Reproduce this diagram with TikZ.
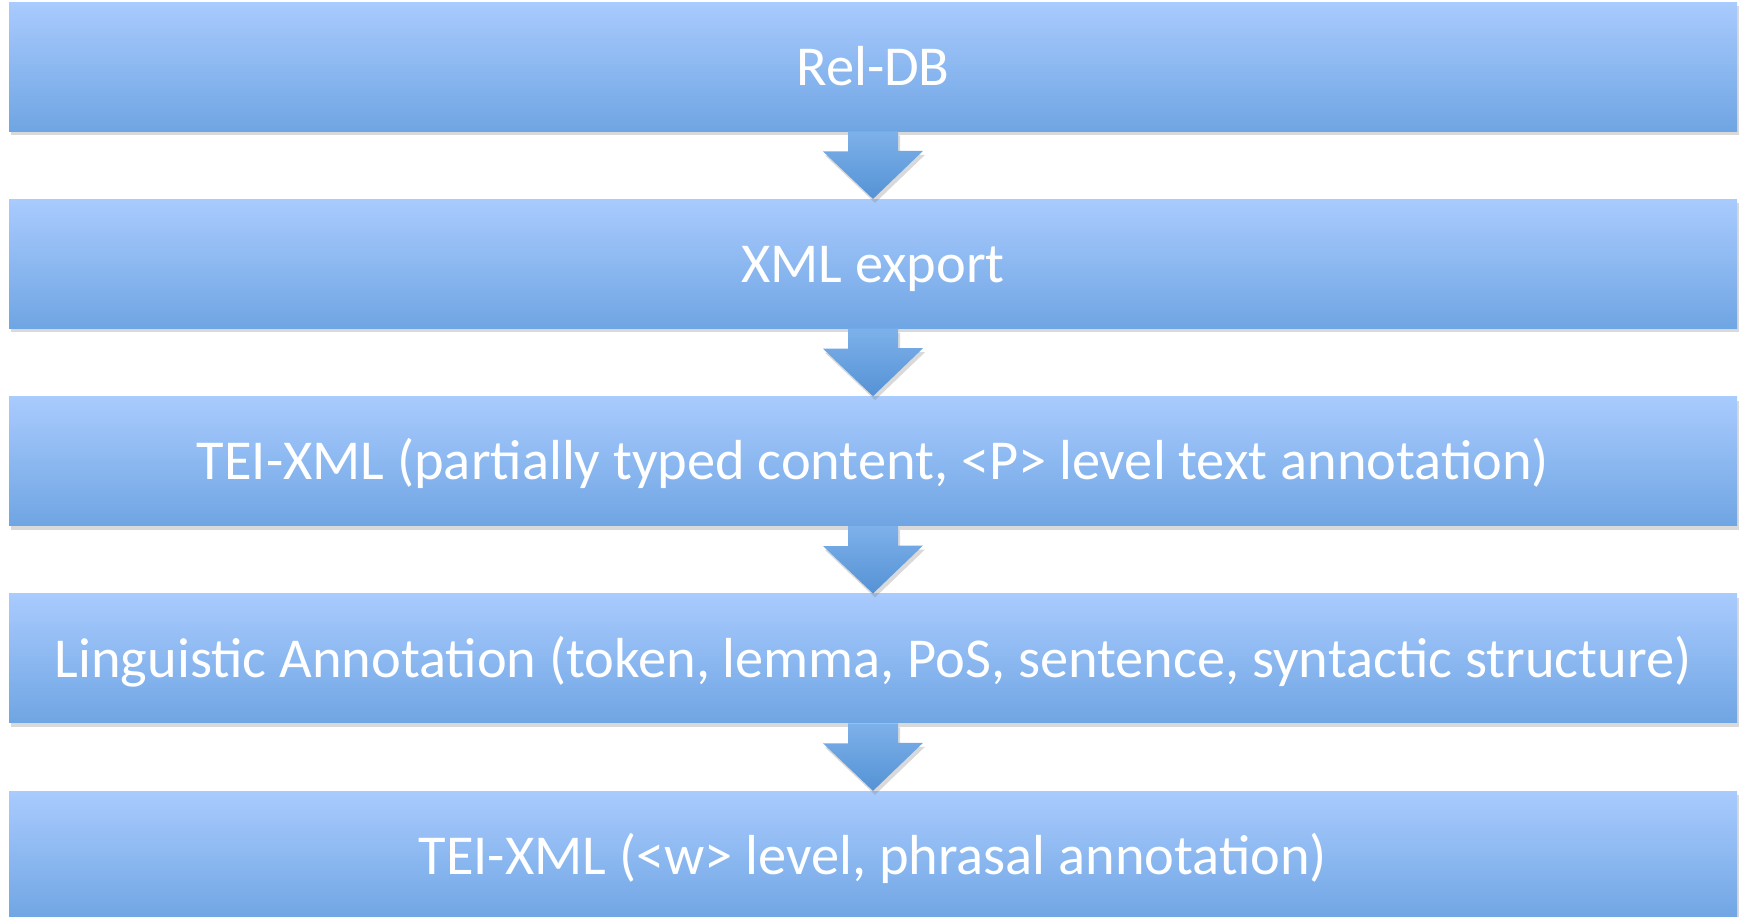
\documentclass[tikz,border=0pt]{standalone}
\usepackage{fontspec}
\setmainfont{Carlito}
\usetikzlibrary{positioning,shadows,calc}

\definecolor{boxtop}{HTML}{A9CBFE}
\definecolor{boxbot}{HTML}{6FA5E3}
\definecolor{arrtop}{HTML}{7DB1EA}
\definecolor{arrbot}{HTML}{5592D5}

\tikzset{
	stage/.style={rectangle, inner sep=0pt, minimum width=864pt, minimum height=64.5pt,
		top color=boxtop, bottom color=boxbot, text=white,
		font=\fontsize{28.2}{32}\selectfont, text height=21.2pt, text depth=2.6pt,
		drop shadow={opacity=0.3, shadow xshift=1pt, shadow yshift=-2pt}},
	flow/.style={top color=arrtop, bottom color=arrbot,
		drop shadow={opacity=0.3, shadow xshift=1pt, shadow yshift=-2pt}},
}

\begin{document}
\begin{tikzpicture}[x=0.5pt, y=-0.5pt, node distance=33.75pt]
	\useasboundingbox (0,0) rectangle (1745,916);
	\node[stage] (reldb) at (873,66.5) {Rel-DB};
	\node[stage, below=of reldb] (xmlexp) {XML export};
	\node[stage, below=of xmlexp] (teip) {TEI-XML (partially typed content, <P> level text annotation)};
	\node[stage, below=of teip] (lingann) {Linguistic Annotation (token, lemma, PoS, sentence, syntactic structure)};
	\node[stage, below=of lingann] (teiw) {TEI-XML (<w> level, phrasal annotation)};
	% block arrows between stages
	\foreach \a/\b in {reldb/xmlexp, xmlexp/teip, teip/lingann, lingann/teiw}
		\path[flow] ($(\a.south)+(-25,0)$) -- ++(0,20) -- ++(-25,0) -- (\b.north)
			-- ++(50,-48) -- ++(-25,0) -- ($(\a.south)+(25,0)$) -- cycle;
\end{tikzpicture}
\end{document}
